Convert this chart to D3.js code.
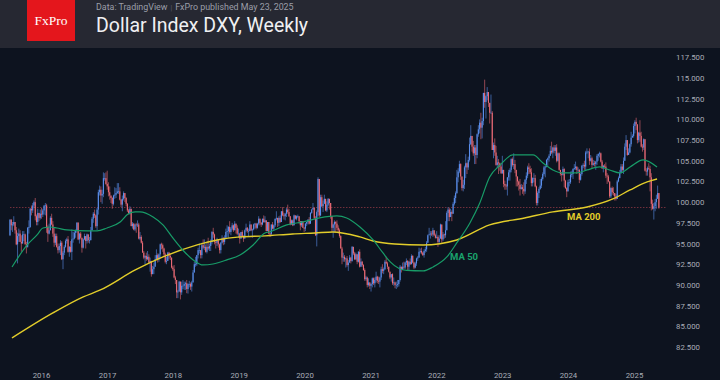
<!DOCTYPE html>
<html><head><meta charset="utf-8">
<script src="https://cdn.jsdelivr.net/npm/d3@7"></script>
<style>
html,body{margin:0;padding:0;background:#0d131f;}
svg{display:block;}
</style></head><body>
<svg id="chart" width="720" height="380"></svg>
<script>
// ---------- DATA ----------
const firstWeek = "2015-07-13";   // Monday of the first weekly bar
const firstOpen = 96.0;
// weekly closes (one line per year)
const weekClose = [
97.9,97.2,97.3,97.6,96.6,94.9,95.9,96.2,95.2,95.0,96.1,96.1,94.9,94.6,96.9,97.0,99.2,99.0,99.6,100.0,98.3,97.6,98.7,98.1,98.6,
98.5,99.0,99.6,99.6,97.0,96.2,96.6,98.1,97.3,96.2,95.1,95.9,94.6,94.2,94.7,95.1,93.1,93.9,94.6,95.3,95.5,94.0,94.6,94.0,95.5,95.6,96.3,96.6,97.5,95.5,96.2,95.7,94.5,95.5,95.9,95.3,96.1,95.4,95.4,96.6,98.0,98.6,98.4,97.1,99.1,101.2,101.5,100.8,101.0,102.9,102.9,102.2,
101.9,101.2,100.8,100.5,99.8,100.8,100.9,101.1,101.3,101.3,100.3,99.7,100.4,101.1,100.5,99.8,99.0,98.6,99.2,97.1,97.4,96.7,97.3,97.2,97.3,95.6,95.8,95.1,93.9,93.3,93.5,93.1,93.4,92.7,92.9,91.3,91.9,92.2,93.1,93.6,93.1,93.7,94.9,94.8,94.4,93.7,92.8,92.9,93.9,93.5,93.3,92.1,
91.9,90.9,90.6,89.1,89.2,90.4,89.1,89.9,89.9,90.1,90.2,89.5,90.1,90.1,89.8,90.3,91.5,92.5,92.5,93.6,94.2,94.2,93.6,94.8,94.5,94.6,94.0,94.6,94.4,94.7,95.2,96.4,96.1,95.2,95.1,95.4,94.9,94.2,95.1,95.6,95.2,95.7,96.4,96.5,97.0,96.4,96.8,97.2,96.6,97.4,96.9,96.2,
96.2,95.6,96.4,95.8,95.6,96.6,96.9,96.5,96.5,97.3,96.6,96.7,97.3,97.4,96.9,97.4,98.0,97.5,97.3,98.0,97.6,97.8,96.5,97.6,96.2,96.1,97.3,96.8,97.2,98.0,98.1,97.5,98.1,97.6,98.9,98.4,98.3,98.6,99.1,98.8,98.3,97.3,97.8,97.2,98.4,98.0,98.3,98.3,97.7,97.2,97.7,96.9,96.8,
97.4,97.6,97.9,97.4,98.7,99.1,99.3,98.1,96.0,98.8,102.8,98.4,100.6,99.5,99.8,100.4,99.0,99.7,100.4,99.9,98.3,96.9,97.3,97.6,97.4,96.9,96.6,95.9,94.4,93.3,93.4,93.1,93.2,92.4,92.7,93.3,92.9,94.6,93.8,93.1,93.7,92.8,94.0,92.2,92.8,92.4,91.8,90.7,90.9,90.0,90.3,89.9,
90.1,90.8,90.2,90.6,91.0,90.5,90.4,90.9,91.9,91.7,91.9,92.8,92.6,92.2,91.6,90.9,91.3,90.2,90.3,90.0,90.0,90.1,90.6,92.2,91.8,92.2,92.1,92.7,92.9,92.2,92.8,92.5,93.5,92.7,92.1,92.6,93.2,93.3,94.0,94.1,93.9,93.6,94.1,94.3,95.1,96.0,96.1,96.2,96.1,96.6,96.0,95.7,
95.8,95.2,95.6,97.3,95.5,96.1,96.0,96.6,98.7,99.1,98.2,98.8,98.6,99.8,100.5,101.1,103.0,103.7,104.6,103.1,101.7,102.1,104.2,104.7,104.2,105.1,107.0,108.0,106.7,105.9,106.6,105.7,108.2,108.8,109.6,109.0,109.8,113.2,112.1,112.8,113.3,112.0,110.8,110.8,106.3,106.9,106.0,104.5,104.8,104.7,104.3,103.5,
103.9,102.2,102.0,101.9,103.0,103.6,103.9,105.2,104.5,104.6,103.9,103.1,102.5,102.1,101.6,101.8,101.6,101.3,102.7,103.2,104.2,104.0,103.6,102.3,102.9,102.9,101.9,99.9,101.1,101.6,102.0,102.8,103.4,104.2,104.3,105.1,105.3,105.6,106.2,106.0,106.6,106.2,106.6,105.0,105.9,103.9,103.4,103.3,104.0,102.6,101.7,101.3,
102.4,102.4,103.3,103.4,104.0,104.1,104.3,103.9,103.9,102.7,103.4,104.4,104.5,104.3,106.0,106.1,106.1,105.0,105.3,104.5,104.7,104.6,104.9,105.6,105.8,105.9,104.9,104.1,104.4,104.3,103.2,103.1,102.5,100.7,101.7,101.2,101.1,100.7,100.4,102.5,102.9,103.5,104.3,103.9,105.0,106.7,107.5,105.7,106.0,107.0,107.8,108.0,109.2,
109.7,109.4,107.5,108.4,108.0,106.7,106.6,107.6,103.8,103.7,104.1,104.0,103.0,99.8,99.2,99.5,100.0,100.4,101.1,99.35
];
const weekHigh = [
97.9,97.9,97.6,98.3,97.6,97.0,96.3,96.8,96.6,96.0,96.5,96.5,96.2,95.2,97.0,97.8,99.3,99.6,99.9,100.2,100.5,98.5,99.2,98.7,99.1,
99.3,99.2,99.6,99.9,99.8,97.2,97.4,98.3,98.6,97.7,96.9,96.2,96.2,95.0,95.0,95.4,95.3,94.1,94.8,95.5,95.7,95.9,94.7,95.3,96.7,96.4,96.5,96.7,97.6,97.6,96.3,96.4,95.6,95.6,96.2,95.9,96.2,96.1,95.8,97.0,98.2,98.8,99.1,98.5,99.3,101.5,102.0,101.9,101.5,103.6,103.5,103.6,
103.8,102.4,101.9,100.8,100.6,100.9,101.8,101.7,102.3,102.3,101.8,100.4,100.8,101.3,101.1,100.6,99.9,99.2,99.5,99.2,97.6,97.5,97.4,97.5,97.8,97.5,96.4,96.0,95.3,94.1,93.6,93.9,94.1,93.7,93.3,92.9,92.3,92.7,93.6,94.3,93.8,93.8,95.0,95.1,95.0,94.5,93.9,93.4,94.0,94.0,93.8,93.3,
92.3,92.4,91.1,90.6,89.4,90.5,90.4,90.4,90.6,90.4,90.4,90.6,90.2,90.5,90.3,90.5,91.8,92.8,93.4,93.6,94.5,95.0,94.2,95.1,95.5,95.5,94.9,95.2,95.7,95.0,95.5,96.5,96.9,96.2,95.3,95.7,95.4,95.0,95.2,96.0,95.8,96.0,96.8,97.2,97.1,97.7,97.0,97.5,97.3,97.7,97.4,97.2,
96.8,96.3,96.4,96.6,96.0,96.7,97.4,97.0,96.8,97.7,97.3,96.8,97.4,97.5,97.5,97.5,98.3,98.0,97.6,98.0,98.4,98.3,97.8,97.6,97.6,96.3,97.3,97.6,97.3,98.0,98.9,98.0,98.3,98.4,98.9,99.4,98.7,98.7,99.3,99.7,99.2,98.3,97.9,97.9,98.5,98.4,98.4,98.5,98.3,97.7,97.7,97.7,97.0,
97.5,97.6,97.9,98.2,98.8,99.2,99.9,99.4,98.3,99.0,103.0,102.8,100.9,100.9,100.2,100.9,100.4,100.1,100.5,100.1,99.9,98.3,97.4,97.8,97.7,97.8,97.2,96.8,96.0,94.6,93.9,93.6,93.3,93.5,93.0,93.6,93.4,94.7,94.4,94.0,93.9,93.7,94.1,94.3,93.2,92.9,92.5,92.0,91.1,91.0,90.8,90.3,
90.2,90.9,90.9,90.9,91.6,91.1,91.0,91.0,92.2,92.5,92.1,93.0,93.4,92.8,92.2,91.6,91.3,91.4,90.9,90.4,90.4,90.6,90.6,92.4,92.2,92.7,92.8,92.8,93.2,93.0,92.9,93.2,93.7,93.6,92.8,92.8,93.3,93.5,94.5,94.4,94.5,94.0,94.3,94.6,95.3,96.1,96.9,96.5,96.5,96.9,96.6,96.2,
96.5,96.0,96.0,97.4,97.3,96.4,96.2,97.7,98.9,99.4,99.3,99.2,99.0,100.0,100.8,101.3,103.9,104.1,105.0,104.7,103.1,102.7,104.4,105.8,104.8,105.5,107.8,109.3,108.0,107.4,106.9,106.9,108.3,109.3,110.0,110.8,110.2,113.2,114.8,112.9,113.9,113.1,112.0,113.0,111.0,107.2,107.7,106.8,105.6,105.2,104.8,104.6,
105.6,103.9,102.6,102.2,103.0,103.9,104.1,105.3,105.4,105.9,105.1,103.9,103.1,102.6,102.8,102.2,102.1,102.4,102.8,103.6,104.4,104.7,104.4,104.1,103.0,103.5,103.3,102.0,101.3,101.8,102.8,103.0,103.6,104.4,104.4,105.2,105.4,105.8,106.8,107.3,106.7,106.9,106.9,107.0,106.0,106.0,103.9,103.6,104.3,104.1,102.7,101.8,
102.7,102.8,103.7,103.8,104.1,104.6,104.9,104.3,104.2,104.0,103.5,104.5,104.7,105.0,106.2,106.5,106.2,106.5,105.7,105.5,105.1,105.0,105.0,105.8,105.9,106.1,106.0,105.1,104.5,104.6,104.8,103.5,103.3,102.5,101.8,101.9,101.8,101.1,101.0,102.7,103.1,103.9,104.6,104.6,105.4,107.1,108.1,107.5,106.5,107.1,108.5,108.2,109.5,
109.9,110.2,109.4,108.5,109.9,108.5,107.0,107.7,107.4,104.1,104.3,104.7,104.4,103.5,100.3,99.9,100.4,100.9,102.0,101.0
];
const weekLow = [
95.9,96.6,96.4,97.1,96.2,94.8,92.6,95.2,95.2,94.0,95.2,95.3,94.9,93.8,94.5,96.2,96.9,98.4,98.7,99.3,97.8,97.2,97.2,97.7,97.9,
98.0,98.2,98.5,98.4,96.3,95.2,96.1,96.6,97.2,95.8,94.6,94.8,94.5,93.8,93.9,93.6,93.0,91.9,93.6,94.5,95.0,93.9,93.4,93.9,93.0,95.1,95.5,95.7,96.3,95.4,95.0,95.5,93.9,94.4,95.4,94.4,95.0,95.1,95.0,95.4,96.6,97.5,98.1,96.9,96.6,98.5,100.8,100.0,99.8,100.6,102.6,102.1,
101.5,100.7,100.3,99.9,99.2,99.6,100.4,100.5,101.0,101.0,100.2,99.4,98.9,100.2,100.0,99.5,98.8,98.5,98.5,97.1,96.8,96.6,96.5,96.3,97.0,95.5,95.4,95.0,93.9,93.1,92.5,92.9,93.0,92.6,91.6,91.0,91.4,91.3,92.2,93.1,92.7,92.8,93.2,94.3,94.0,93.4,92.6,92.5,92.9,93.1,93.0,92.0,
91.7,90.8,90.1,88.4,88.4,89.2,88.25,88.8,89.5,89.4,89.4,89.0,88.95,89.7,89.4,89.2,90.3,91.5,92.2,92.3,93.2,93.8,93.2,93.2,94.3,94.2,93.9,93.8,94.2,94.1,94.1,94.9,95.7,94.9,94.4,94.7,94.5,93.8,93.8,95.0,94.8,94.9,95.7,95.8,95.7,96.2,96.0,96.6,96.4,96.6,96.2,96.0,
95.7,95.0,95.6,95.8,95.2,95.7,96.4,96.3,95.9,96.5,96.5,95.7,96.6,96.8,96.7,96.8,97.2,97.2,97.0,97.2,97.5,97.5,96.5,96.5,96.1,95.8,96.1,96.7,96.6,97.0,97.8,97.0,97.1,97.5,97.6,98.3,97.9,97.8,98.2,98.6,98.2,97.2,97.3,97.1,97.2,97.9,97.8,98.1,97.4,96.6,97.0,96.9,96.4,
96.5,97.1,97.3,97.3,97.4,98.6,99.1,97.9,95.9,94.65,98.3,98.2,98.3,99.4,98.8,99.8,98.9,98.8,99.5,99.1,98.0,96.4,95.7,96.4,96.4,96.6,96.2,95.7,94.4,92.5,92.8,92.8,92.1,92.2,91.7,92.7,92.6,92.8,93.6,93.0,93.0,92.5,92.7,92.1,92.2,92.2,91.7,90.5,90.5,89.7,89.8,89.5,
89.2,89.7,90.0,89.7,90.3,90.2,90.1,89.7,90.6,91.4,91.3,91.8,92.5,91.9,91.5,90.7,90.4,90.0,89.9,89.6,89.5,89.7,89.8,90.4,91.5,91.8,91.9,91.9,92.4,91.8,91.8,92.4,92.5,92.6,91.9,92.0,92.3,92.9,93.3,93.8,93.7,93.5,93.3,93.9,94.0,95.1,96.0,95.6,95.9,95.8,95.9,95.6,
95.6,94.6,94.9,95.6,95.1,95.3,95.6,95.7,96.6,97.7,97.7,98.3,97.7,98.6,99.6,99.9,101.0,102.4,103.5,102.7,101.4,101.3,101.6,102.9,103.4,103.9,104.9,106.9,106.1,105.6,104.6,104.6,105.3,107.9,108.3,107.6,107.7,109.3,111.4,110.1,112.3,111.5,109.5,110.7,106.3,105.3,105.6,104.4,104.1,103.4,103.8,103.4,
103.4,101.8,101.5,101.5,100.8,102.6,102.6,103.6,104.3,104.0,103.5,101.9,101.9,101.4,100.8,101.5,101.0,100.8,101.0,102.2,102.9,103.4,103.4,101.9,101.9,102.4,101.8,99.6,99.6,100.5,101.5,101.7,102.6,103.2,103.0,104.2,104.4,104.9,105.6,105.8,105.3,105.9,105.6,104.8,104.9,103.8,103.2,102.5,103.2,101.8,101.6,100.6,
101.3,101.9,102.2,103.0,102.8,103.9,103.9,103.4,103.6,102.3,102.6,103.2,104.1,103.9,103.9,105.8,105.3,104.5,104.9,104.1,104.4,104.3,103.9,104.5,105.0,105.4,104.8,104.0,103.6,104.1,102.9,102.2,102.4,100.5,100.5,100.9,100.8,100.2,100.2,100.4,102.4,102.9,103.6,103.7,103.4,105.1,106.3,105.6,105.7,105.9,106.7,107.8,107.8,
108.3,108.7,107.1,107.2,107.3,106.6,106.1,106.3,103.7,103.2,103.2,103.9,101.3,99.0,99.1,97.9,98.9,99.2,100.4,99.2
];
// moving averages (decimal year, value)
const ma50Year  = [2015.56,2015.79,2015.94,2016.03,2016.14,2016.24,2016.39,2016.70,2016.85,2017.00,2017.20,2017.32,2017.43,2017.50,2017.70,2017.85,2018.00,2018.15,2018.31,2018.46,2018.61,2018.82,2019.02,2019.22,2019.40,2019.47,2019.73,2019.98,2020.23,2020.49,2020.64,2020.84,2021.04,2021.19,2021.30,2021.55,2021.80,2021.95,2022.16,2022.31,2022.51,2022.66,2022.81,2022.97,2023.16,2023.34,2023.47,2023.62,2023.77,2023.92,2024.13,2024.29,2024.48,2024.63,2024.79,2024.94,2025.14,2025.35];
const ma50Value = [92.17,94.83,96.04,96.88,97.00,96.88,96.64,96.52,96.52,96.88,97.61,98.57,98.82,98.82,98.21,97.25,95.67,94.22,93.02,92.41,92.53,93.02,93.62,94.83,96.28,96.40,97.25,97.61,98.09,98.33,98.09,97.00,95.43,93.86,92.78,91.75,91.69,92.17,93.38,95.07,97.49,99.90,103.04,104.49,105.70,105.70,105.70,104.74,103.89,103.53,103.53,103.89,104.25,103.89,103.53,104.25,105.10,104.25];
const ma200Year  = [2015.56,2016.18,2016.64,2016.90,2017.43,2017.85,2018.37,2018.67,2019.02,2019.40,2019.82,2020.16,2020.43,2020.84,2021.04,2021.37,2021.80,2022.31,2022.81,2023.34,2023.77,2024.29,2024.68,2024.94,2025.20,2025.35];
const ma200Value = [83.59,86.61,88.55,89.39,91.81,93.38,94.83,95.43,95.80,95.92,96.16,96.28,96.40,95.80,95.31,94.95,94.83,95.43,97.25,98.09,98.82,99.42,100.39,101.47,102.44,102.80];
const yTicks = [82.5,85,87.5,90,92.5,95,97.5,100,102.5,105,107.5,110,112.5,115,117.5];
const xYears = [2016,2017,2018,2019,2020,2021,2022,2023,2024,2025];

// ---------- DRAW ----------
const W = 720, H = 380;
const svg = d3.select("#chart");
const parse = d3.timeParse("%Y-%m-%d");
const start = parse(firstWeek);
const weeks = weekClose.map((c, i) => d3.timeDay.offset(start, 7 * i));
const fromYear = t => { const yr = Math.floor(t); const a = new Date(yr,0,1), b = new Date(yr+1,0,1); return new Date(+a + (t-yr)*(b-a)); };

const x = d3.scaleTime().domain([new Date(2016,0,1), new Date(2025,0,1)]).range([41, 634]);
const y = d3.scaleLinear().domain([82.5, 117.5]).range([347, 57.3]);

svg.append("rect").attr("width", W).attr("height", H).attr("fill", "#0d131f");
// header
svg.append("rect").attr("width", W).attr("height", 48).attr("fill", "#262832");
svg.append("rect").attr("x", 27).attr("y", 0).attr("width", 48).attr("height", 41).attr("fill", "#e4161c");
svg.append("text").attr("x", 51).attr("y", 24.5).attr("text-anchor", "middle")
  .attr("font-family", "'Liberation Serif', 'DejaVu Serif', serif").attr("font-size", 13.5)
  .attr("fill", "#ffffff").text("FxPro");
const sub = svg.append("text").attr("x", 96).attr("y", 9.6)
  .attr("font-family", "Roboto, sans-serif").attr("font-size", 8.9).attr("fill", "#9b9ea8");
sub.append("tspan").text("Data: TradingView");
sub.append("tspan").attr("dx", 3).attr("fill", "#5d606a").attr("font-size", 7).text("|");
sub.append("tspan").attr("dx", 3).text("FxPro published May 23, 2025");
svg.append("text").attr("x", 96).attr("y", 31.8)
  .attr("font-family", "Roboto, sans-serif").attr("font-size", 19.5).attr("fill", "#f0f0f2")
  .text("Dollar Index DXY, Weekly");

// price line (last close)
const lastClose = weekClose[weekClose.length - 1];
svg.append("line").attr("x1", x(weeks[0])).attr("x2", 666)
  .attr("y1", y(lastClose)).attr("y2", y(lastClose))
  .attr("stroke", "#73303c").attr("stroke-width", 1).attr("stroke-dasharray", "1.5,1.5");

// candles
const bull = "#5b8fee", bear = "#ec6b76";
const candles = weekClose.map((c, i) => {
  const o = i === 0 ? firstOpen : weekClose[i - 1];
  return { d: weeks[i], o, c, h: Math.max(weekHigh[i], o, c), l: Math.min(weekLow[i], o, c) };
});
const g = svg.append("g");
g.selectAll("line.w").data(candles).join("line").attr("class", "w")
  .attr("x1", d => x(d.d)).attr("x2", d => x(d.d))
  .attr("y1", d => y(d.h)).attr("y2", d => y(d.l))
  .attr("stroke", d => d.c >= d.o ? bull : bear).attr("stroke-width", 0.7).attr("stroke-opacity", 0.85);
g.selectAll("rect.b").data(candles).join("rect").attr("class", "b")
  .attr("x", d => x(d.d) - 0.55).attr("width", 1.1)
  .attr("y", d => y(Math.max(d.o, d.c)))
  .attr("height", d => Math.max(0.6, Math.abs(y(d.o) - y(d.c))))
  .attr("fill", d => d.c >= d.o ? bull : bear);

// moving averages
const line = d3.line().x(d => x(d[0])).y(d => y(d[1])).curve(d3.curveMonotoneX);
svg.append("path").datum(ma200Year.map((t, i) => [fromYear(t), ma200Value[i]]))
  .attr("d", line).attr("fill", "none").attr("stroke", "#e2cd2a").attr("stroke-width", 1.4);
svg.append("path").datum(ma50Year.map((t, i) => [fromYear(t), ma50Value[i]]))
  .attr("d", line).attr("fill", "none").attr("stroke", "#189c68").attr("stroke-width", 1.2);

svg.append("text").attr("x", 450).attr("y", 259.5).attr("font-family", "Roboto, sans-serif")
  .attr("font-weight", "bold").attr("font-size", 9.5).attr("fill", "#1aa36d").text("MA 50");
svg.append("text").attr("x", 567).attr("y", 220.3).attr("font-family", "Roboto, sans-serif")
  .attr("font-weight", "bold").attr("font-size", 9.5).attr("fill", "#e2cd2a").text("MA 200");

// axes
const yAxis = svg.append("g").attr("transform", "translate(676,0)")
  .call(d3.axisRight(y).tickValues(yTicks).tickFormat(d3.format(".3f")).tickSize(0).tickPadding(0));
const xAxis = svg.append("g").attr("transform", "translate(0,372)")
  .call(d3.axisBottom(x).tickValues(xYears.map(v => new Date(v,0,1))).tickFormat(d3.timeFormat("%Y")).tickSize(0).tickPadding(0));
[yAxis, xAxis].forEach(a => {
  a.select(".domain").remove();
  a.selectAll("text").attr("fill", "#a9adb7").attr("font-family", "Roboto, sans-serif").attr("font-size", 7.8);
});
</script>
</body></html>
